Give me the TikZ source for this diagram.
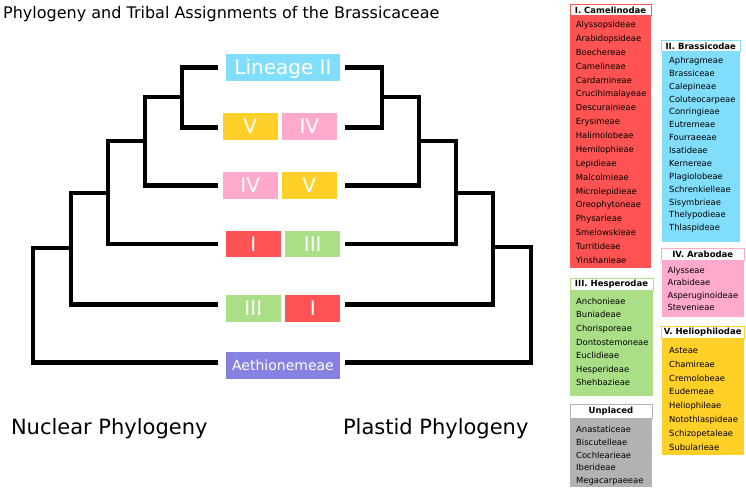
\documentclass[tikz,border=0pt]{standalone}
\usepackage{fontspec}
\setmainfont{DejaVu Sans}
\usetikzlibrary{positioning}
\definecolor{camred}{RGB}{255,82,82}
\definecolor{brablue}{RGB}{128,222,250}
\definecolor{araPink}{RGB}{255,170,205}
\definecolor{helYellow}{RGB}{255,208,40}
\definecolor{hesGreen}{RGB}{170,222,135}
\definecolor{aethPurple}{RGB}{135,130,225}
\definecolor{unpGray}{RGB}{178,178,178}

\begin{document}
\begin{tikzpicture}[x=1pt,y=-1pt,
  branch/.style={line width=4.6pt},
  clade/.style={fill=#1,text=white,minimum width=54.7pt,minimum height=26.7pt,inner sep=0pt,
    text height=15pt,text depth=0pt,font=\fontsize{20}{20}\selectfont},
  head/.style={draw=#1,fill=white,line width=.9pt,inner sep=0pt,minimum height=11.5pt,
    font=\bfseries\fontsize{8.5}{10}\selectfont},
  tribe/.style={anchor=base west,inner sep=0pt,font=\fontsize{8.4}{10}\selectfont},
  caption/.style={anchor=base west,inner sep=0pt,font=\fontsize{21}{24}\selectfont}]
\useasboundingbox (0,0) rectangle (746,489);
% title
\node[anchor=base west,inner sep=0pt,font=\fontsize{16}{18}\selectfont] (title) at (3,18.5) {Phylogeny and Tribal Assignments of the Brassicaceae};
% clade boxes
\node[clade=brablue,minimum width=114pt] (lin2) at (283,67.3) {Lineage II};
\node[clade=helYellow] (nuc5) at (250.2,126.5) {V}; \node[clade=araPink] (pla4) at (309.3,126.5) {IV};
\node[clade=araPink] (nuc4) at (250.2,185.5) {IV}; \node[clade=helYellow] (pla5) at (309.3,185.5) {V};
\node[clade=camred] (nuc1) at (253.3,244) {I}; \node[clade=hesGreen] (pla3) at (312.7,244) {III};
\node[clade=hesGreen] (nuc3) at (253.3,308.3) {III}; \node[clade=camred] (pla1) at (312.7,308.3) {I};
\node[clade=aethPurple,minimum width=114pt,text height=10.2pt,font=\fontsize{14}{14}\selectfont] (aeth) at (283,365.7) {Aethionemeae};
% nuclear tree
\coordinate (nl1) at (218,67.7); \coordinate (nl2) at (218,127.3); \coordinate (nl3) at (218,185.7);
\coordinate (nl4) at (218,244); \coordinate (nl5) at (218,304.3); \coordinate (nl6) at (218,362.7);
\coordinate (nu1) at (182,97); \coordinate (nu2) at (145,141); \coordinate (nu3) at (108,193);
\coordinate (nu4) at (71,248); \coordinate (nu5) at (33,248);
\draw[branch] (nl1) -| (nu1) |- (nl2); \draw[branch] (nu1) -| (nu2) |- (nl3);
\draw[branch] (nu2) -| (nu3) |- (nl4); \draw[branch] (nu3) -| (nu4) |- (nl5);
\draw[branch] (nu4) -| (nu5) |- (nl6);
% plastid tree
\coordinate (pl1) at (345,67.7); \coordinate (pl2) at (345,127.3); \coordinate (pl3) at (345,185.7);
\coordinate (pl4) at (345,244); \coordinate (pl5) at (345,304.3); \coordinate (pl6) at (345,362.7);
\coordinate (pu1) at (382,97); \coordinate (pu2) at (419,141); \coordinate (pu3) at (456,193);
\coordinate (pu4) at (493,247); \coordinate (pu5) at (531,247);
\draw[branch] (pl1) -| (pu1) |- (pl2); \draw[branch] (pu1) -| (pu2) |- (pl3);
\draw[branch] (pu2) -| (pu3) |- (pl4); \draw[branch] (pu3) -| (pu4) |- (pl5);
\draw[branch] (pu4) -| (pu5) |- (pl6);
\node[caption] (nuclab) at (10.8,434) {Nuclear Phylogeny};
\node[caption] (plalab) at (342.8,434) {Plastid Phylogeny};
% legend
\fill[camred] (570,16) rectangle (651,268);
\node[head=camred,minimum width=81pt] (camh) at (610.5,10.2) {I. Camelinodae};
\foreach \t [count=\i] in {Alyssopsideae,Arabidopsideae,Boechereae,Camelineae,Cardamineae,Crucihimalayeae,Descurainieae,Erysimeae,Halimolobeae,Hemilophieae,Lepidieae,Malcolmieae,Microlepidieae,Oreophytoneae,Physarieae,Smelowskieae,Turritideae,Yinshanieae}
  \node[tribe] (cam\i) at (575.7,{27.5+(\i-1)*13.88}) {\t};
\fill[brablue] (661.5,52) rectangle (740,241.5);
\node[head=brablue,minimum width=78.5pt] (brah) at (700.75,46.2) {II. Brassicodae};
\foreach \t [count=\i] in {Aphragmeae,Brassiceae,Calepineae,Coluteocarpeae,Conringieae,Eutremeae,Fourraeeae,Isatideae,Kernereae,Plagiolobeae,Schrenkielleae,Sisymbrieae,Thelypodieae,Thlaspideae}
  \node[tribe] (bra\i) at (669,{63.5+(\i-1)*12.87}) {\t};
\fill[araPink] (661.5,260) rectangle (744,317.3);
\node[head=araPink,minimum width=82.5pt] (arah) at (702.75,254.2) {IV. Arabodae};
\foreach \t [count=\i] in {Alysseae,Arabideae,Asperuginoideae,Stevenieae}
  \node[tribe] (ara\i) at (667.3,{273.2+(\i-1)*12.53}) {\t};
\fill[helYellow] (661.5,338) rectangle (744,455);
\node[head=helYellow,minimum width=82.5pt] (helh) at (702.75,332.2) {V. Heliophilodae};
\foreach \t [count=\i] in {Asteae,Chamireae,Cremolobeae,Eudemeae,Heliophileae,Notothlaspideae,Schizopetaleae,Subularieae}
  \node[tribe] (hel\i) at (669,{353.5+(\i-1)*13.81}) {\t};
\fill[hesGreen] (570,290) rectangle (653,396);
\node[head=hesGreen,minimum width=83pt] (hesh) at (611.5,284.2) {III. Hesperodae};
\foreach \t [count=\i] in {Anchonieae,Buniadeae,Chorisporeae,Dontostemoneae,Euclidieae,Hesperideae,Shehbazieae}
  \node[tribe] (hes\i) at (576,{304.2+(\i-1)*13.6}) {\t};
\fill[unpGray] (570,418.5) rectangle (652,486.5);
\node[head=unpGray,minimum width=82pt,minimum height=14pt] (unph) at (611,411.5) {Unplaced};
\foreach \t [count=\i] in {Anastaticeae,Biscutelleae,Cochlearieae,Iberideae,Megacarpaeeae}
  \node[tribe] (unp\i) at (576,{432.5+(\i-1)*12.75}) {\t};
\end{tikzpicture}
\end{document}
